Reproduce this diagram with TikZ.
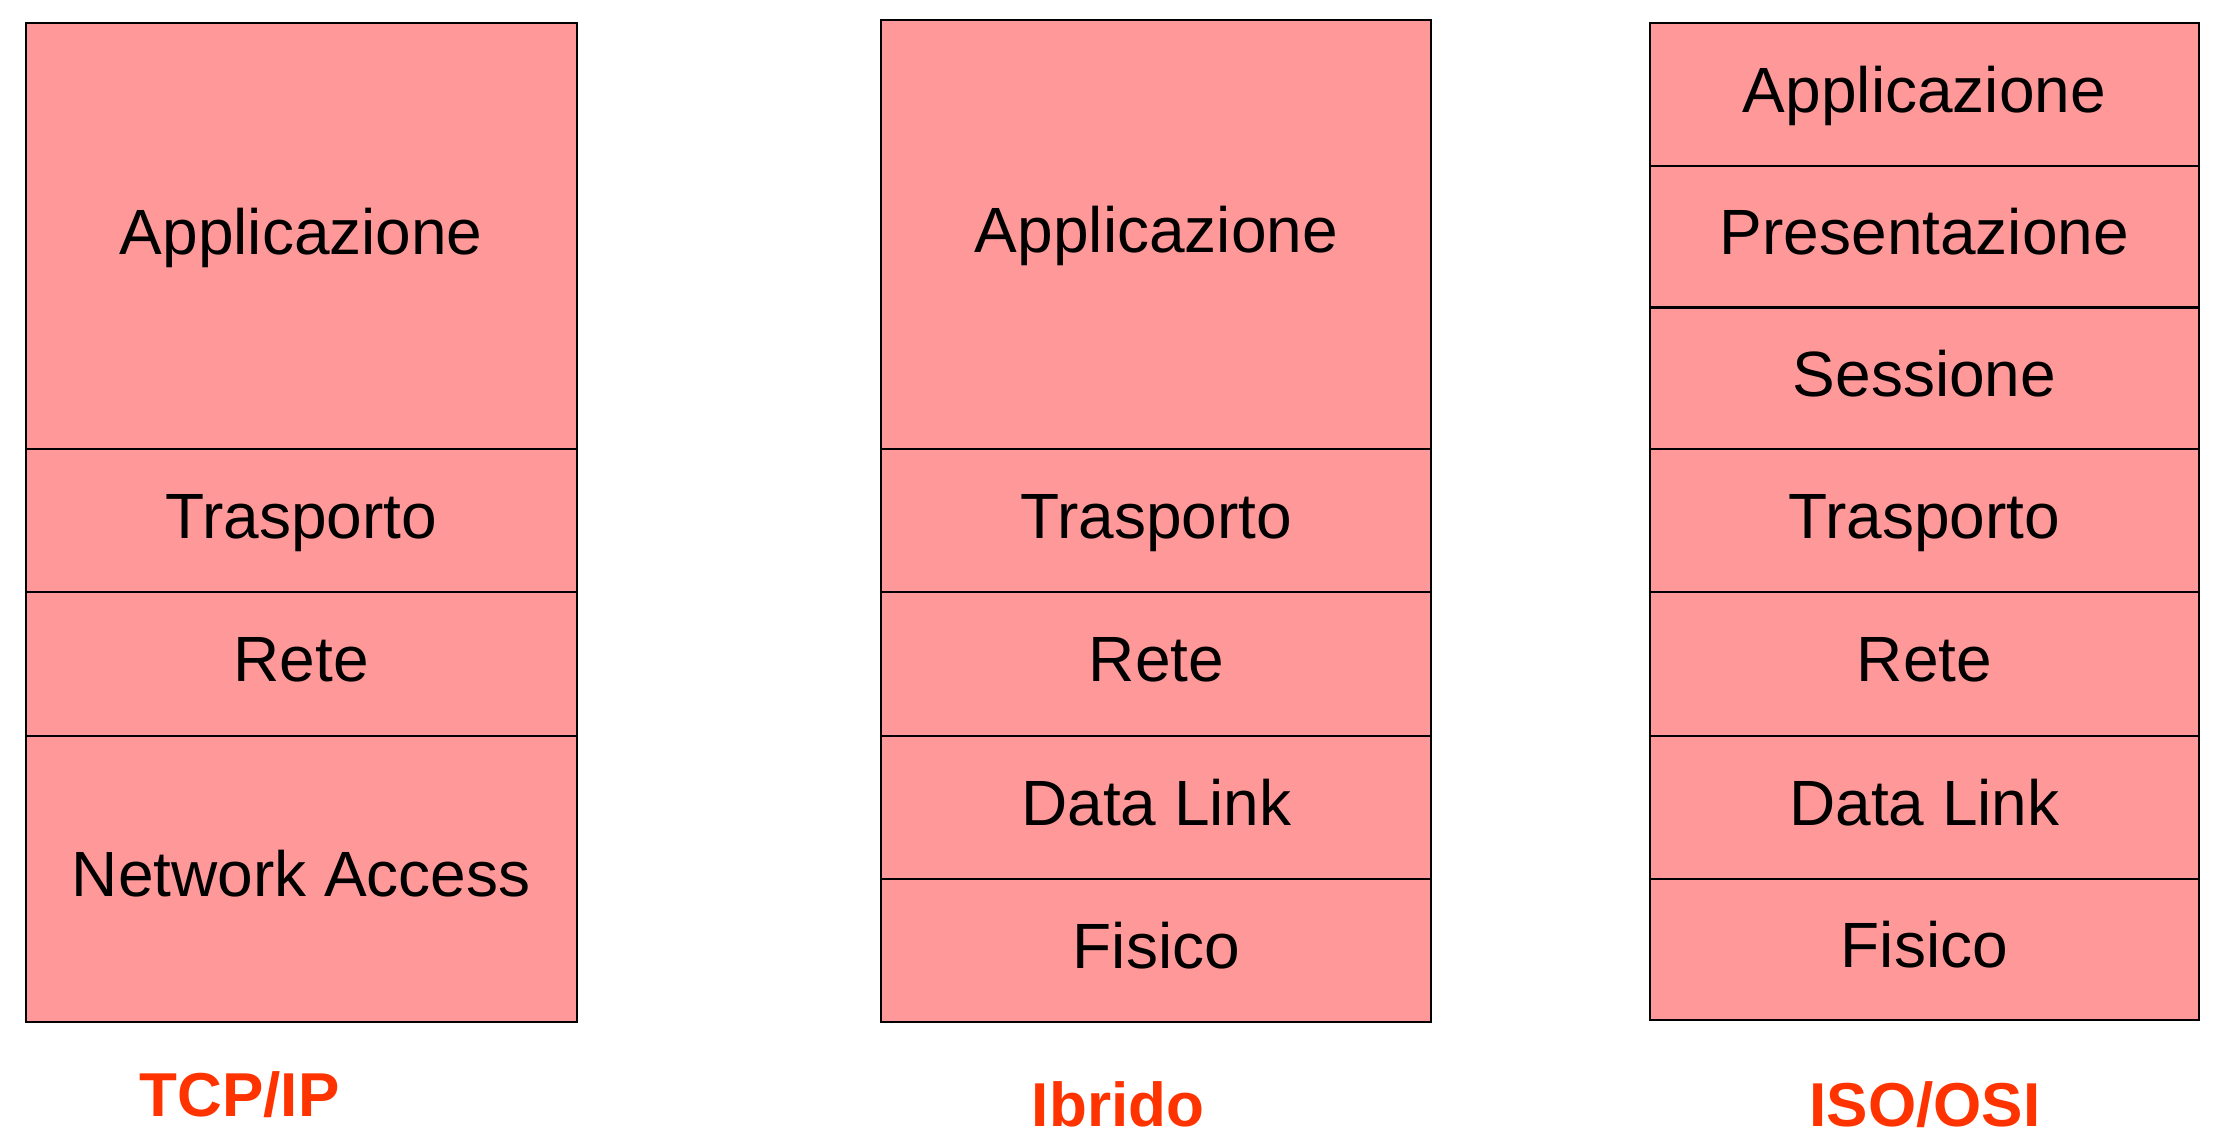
\documentclass[tikz,border=0pt]{standalone}
\usepackage{fontspec}
\setmainfont{Liberation Sans}
\definecolor{layerfill}{HTML}{FF9999}
\definecolor{labelred}{HTML}{FF3300}
\begin{document}
\begin{tikzpicture}[x=1pt,y=-1pt,
  layer/.style={draw=black,fill=layerfill,line width=2pt,inner sep=0pt,outer sep=0pt,
    font=\fontsize{64}{70}\selectfont,text height=46pt,text depth=10pt},
  stacklabel/.style={text=labelred,font=\bfseries\fontsize{62}{68}\selectfont,inner sep=0pt,anchor=base}]
\useasboundingbox (0,0) rectangle (2222,1146);
% TCP/IP
\node[layer,minimum width=551.3pt,minimum height=426.5pt] (t1) at (301.2,236) {Applicazione};
\node[layer,minimum width=551.3pt,minimum height=143.1pt] (t2) at (301.2,520.75) {Trasporto};
\node[layer,minimum width=551.3pt,minimum height=143.2pt] (t3) at (301.2,663.9) {Rete};
\node[layer,minimum width=551.3pt,minimum height=286.2pt] (t4) at (301.2,878.6) {Network Access};
% Ibrido
\node[layer,minimum width=549.9pt,minimum height=429.4pt] (i1) at (1156.4,234.5) {Applicazione};
\node[layer,minimum width=549.9pt,minimum height=143.1pt] (i2) at (1156.4,520.75) {Trasporto};
\node[layer,minimum width=549.9pt,minimum height=143.2pt] (i3) at (1156.4,663.9) {Rete};
\node[layer,minimum width=549.9pt,minimum height=143.1pt] (i4) at (1156.4,807.05) {Data Link};
\node[layer,minimum width=549.9pt,minimum height=143.1pt] (i5) at (1156.4,950.15) {Fisico};
% ISO/OSI
\node[layer,minimum width=549.8pt,minimum height=143.1pt] (o1) at (1924.4,94.25) {Applicazione};
\node[layer,minimum width=549.8pt,minimum height=141.7pt] (o2) at (1924.4,236.65) {Presentazione};
\node[layer,minimum width=549.8pt,minimum height=141.7pt] (o3) at (1924.4,378.35) {Sessione};
\node[layer,minimum width=549.8pt,minimum height=143.1pt] (o4) at (1924.4,520.75) {Trasporto};
\node[layer,minimum width=549.8pt,minimum height=143.2pt] (o5) at (1924.4,663.9) {Rete};
\node[layer,minimum width=549.8pt,minimum height=143.1pt] (o6) at (1924.4,807.05) {Data Link};
\node[layer,minimum width=549.8pt,minimum height=141.4pt] (o7) at (1924.4,949.3) {Fisico};
\draw[line width=3.5pt] (o2.south west) -- (o2.south east);
% labels
\node[stacklabel] (lt) at (239.5,1116.7) {TCP/IP};
\node[stacklabel] (li) at (1118,1126.6) {Ibrido};
\node[stacklabel] (lo) at (1925,1126.6) {ISO/OSI};
\end{tikzpicture}
\end{document}
